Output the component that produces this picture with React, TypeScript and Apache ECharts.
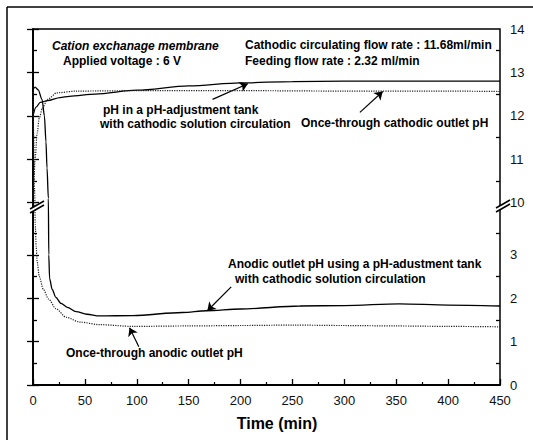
import React, { useEffect, useRef } from "react";
import * as echarts from "echarts";

// ---- axis break: pH 10..14 are drawn directly above pH 0..~3.8 ----
const U_SHIFT = 5.8; // pH 10 sits at virtual 4.2
const toU = (ph: number) => (ph >= 10 ? ph - U_SHIFT : ph);
const fromU = (u: number) => (u >= 4.1 ? u + U_SHIFT : u);

const yTickPH = [0, 1, 2, 3, 10, 11, 12, 13, 14];
const yMinorPH = [0.5, 1.5, 2.5, 3.5, 10.5, 11.5, 12.5, 13.5];

// pH in a pH-adjustment tank with cathodic solution circulation (solid)
const tankTime = [0, 3, 7, 14, 26, 35, 60, 100, 150, 200, 250, 300, 350, 400, 450];
const tankPH = [12.0, 12.2, 12.31, 12.35, 12.42, 12.45, 12.5, 12.59, 12.69, 12.76, 12.79, 12.8, 12.8, 12.8, 12.8];

// Once-through cathodic outlet pH (dotted)
const cathTime = [0, 1, 2, 4, 6, 9, 14, 23, 42, 100, 200, 300, 400, 450];
const cathPH = [10.1, 10.6, 11.0, 11.6, 11.95, 12.17, 12.38, 12.53, 12.57, 12.58, 12.58, 12.57, 12.57, 12.56];

// Anodic outlet pH using a pH-adjustment tank (solid)
const anTankTime = [0, 2, 5, 8.7, 11, 12.5, 13.5, 14.8, 15.2, 16, 18.5, 22, 27, 33, 41.5, 52, 64, 96, 144, 167, 200, 257, 300, 353, 400, 450];
const anTankPH = [12.6, 12.66, 12.6, 12.38, 12.0, 11.4, 10.8, 10.1, 3.0, 2.45, 2.2, 2.02, 1.88, 1.79, 1.69, 1.63, 1.59, 1.6, 1.67, 1.71, 1.75, 1.82, 1.83, 1.87, 1.84, 1.82];

// Once-through anodic outlet pH (dotted)
const anTime = [0, 0.7, 1.5, 2.2, 3, 4, 6, 10, 15, 22, 32, 45, 64, 96, 150, 200, 250, 300, 350, 400, 450];
const anPH = [12.55, 11.5, 10.3, 3.7, 3.2, 2.85, 2.5, 2.2, 1.98, 1.76, 1.56, 1.45, 1.39, 1.35, 1.36, 1.37, 1.38, 1.37, 1.36, 1.35, 1.34];

// annotation arrows (time, pH): from text to curve
const arrowFrom = [[173, 12.38], [315, 12.08], [191, 2.26], [102, 0.88]];
const arrowTo = [[207, 12.74], [337, 12.56], [168, 1.71], [93, 1.32]];

const FONT = 'Arial, "Liberation Sans", sans-serif';

const pts = (t: number[], p: number[]) => t.map((x, i) => [x, toU(p[i])]);

export default function App() {
  const ref = useRef<HTMLDivElement>(null);
  useEffect(() => {
    if (!ref.current) return;
    const chart = echarts.init(ref.current, undefined, { renderer: "svg" });
    const majorU = yTickPH.map(toU);
    const minorU = yMinorPH.map(toU);
    const yBase = {
      type: "value",
      min: 0,
      max: 8.2,
      splitLine: { show: false },
      axisLine: { show: true, lineStyle: { color: "#000", width: 1.5 } },
    };
    const tickAxis = (pos: string, custom: number[], len: number, labels: boolean) => ({
      ...yBase,
      position: pos,
      axisTick: { show: true, inside: true, length: len, customValues: custom, lineStyle: { color: "#000", width: 1.3 } },
      axisLabel: labels
        ? {
            show: true,
            customValues: custom,
            margin: 10,
            fontSize: 13,
            color: "#111",
            fontFamily: FONT,
            formatter: (v: number) => String(Math.round(fromU(v))),
          }
        : { show: false },
    });
    const line = (t: number[], p: number[], dotted: boolean, arrows: number[]) => ({
      type: "line",
      data: pts(t, p),
      showSymbol: false,
      smooth: 0.3,
      smoothMonotone: "x",
      lineStyle: { color: dotted ? "#222" : "#000", width: dotted ? 1.2 : 1.3, type: dotted ? "dotted" : "solid" },
      markLine: {
        silent: true,
        symbol: ["none", "arrow"],
        symbolSize: 8,
        label: { show: false },
        lineStyle: { color: "#000", width: 1.2, type: "solid" },
        data: arrows.map((k) => [
          { coord: [arrowFrom[k][0], toU(arrowFrom[k][1])] },
          { coord: [arrowTo[k][0], toU(arrowTo[k][1])] },
        ]),
      },
    });
    const txt = (text: string, x: number, y: number, font = `bold 12px ${FONT}`, align = "left") => ({
      type: "text",
      x,
      y,
      z: 100,
      style: { text, font, fill: "#000", textAlign: align, textVerticalAlign: "middle", verticalAlign: "middle" },
    });
    const seg = (x1: number, y1: number, x2: number, y2: number, w = 1.5) => ({
      type: "line",
      z: 100,
      shape: { x1, y1, x2, y2 },
      style: { stroke: "#000", lineWidth: w },
    });
    const brk = (cx: number, cy: number) => [
      {
        type: "polygon",
        z: 99,
        shape: { points: [[cx - 7, cy + 2], [cx + 7, cy - 6], [cx + 7, cy - 2], [cx - 7, cy + 6]] },
        style: { fill: "#fff" },
      },
      seg(cx - 7, cy + 2, cx + 7, cy - 6, 1.6),
      seg(cx - 7, cy + 6, cx + 7, cy - 2, 1.6),
    ];
    chart.setOption({
      animation: false,
      backgroundColor: "#fff",
      grid: { left: 33, right: 33, top: 29, bottom: 55, show: true, borderColor: "#000", borderWidth: 1.5 },
      xAxis: {
        type: "value",
        min: 0,
        max: 450,
        interval: 50,
        position: "bottom",
        splitLine: { show: false },
        axisLine: { show: true, lineStyle: { color: "#000", width: 1.8 } },
        axisTick: { show: true, inside: true, length: 6, lineStyle: { color: "#000", width: 1.3 } },
        minorTick: { show: true, splitNumber: 2, length: 3, lineStyle: { color: "#000", width: 1.2 } },
        axisLabel: { margin: 9, fontSize: 13, color: "#111", fontFamily: FONT },
      },
      yAxis: [
        tickAxis("right", majorU, 6, true),
        { ...tickAxis("right", minorU, 4, false), axisLine: { show: false } },
        tickAxis("left", majorU, 6, false),
        { ...tickAxis("left", minorU, 4, false), axisLine: { show: false } },
      ],
      series: [
        line(tankTime, tankPH, false, [0]),
        line(cathTime, cathPH, true, [1]),
        line(anTankTime, anTankPH, false, [2]),
        line(anTime, anPH, true, [3]),
      ],
      graphic: [
        seg(7, 7, 533, 7, 1.5),
        seg(7, 7, 7, 440, 1.5),
        ...brk(37, 207),
        ...brk(503, 206),
        txt("Cation exchanage membrane", 52, 46, `italic bold 12px ${FONT}`),
        txt("Applied voltage : 6 V", 63, 61),
        txt("Cathodic circulating flow rate : 11.68ml/min", 245, 45),
        txt("Feeding flow rate : 2.32 ml/min", 245, 61),
        txt("pH in a pH-adjustment tank", 103, 110),
        txt("with cathodic solution circulation", 100, 124),
        txt("Once-through cathodic outlet pH", 301, 123),
        txt("Anodic outlet pH using a pH-adustment tank", 228, 264),
        txt("with cathodic solution circulation", 235, 279),
        txt("Once-through anodic outlet pH", 66, 353),
        txt("Time (min)", 277, 423, `bold 16px ${FONT}`, "center"),
      ],
    });
    return () => chart.dispose();
  }, []);
  return (
    <div
      ref={ref}
      style={{ position: "absolute", left: 0, top: 0, width: 533, height: 440, background: "#fff" }}
    />
  );
}
